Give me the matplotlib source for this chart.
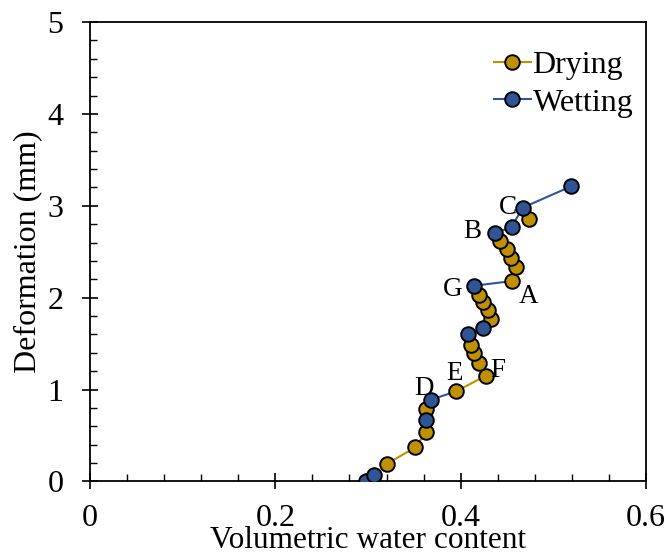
import numpy as np
import matplotlib
matplotlib.use("Agg")
import matplotlib.pyplot as plt
from matplotlib.ticker import MultipleLocator

plt.rcParams['font.family'] = ['Liberation Serif', 'DejaVu Serif']

nan = np.nan

# drying stages, separated by nan so each stage is its own line piece
dry_x = [0.320, 0.351, 0.363, nan,
         0.363, nan,
         0.395, 0.427, 0.420, 0.414, 0.411, nan,
         0.433, 0.429, 0.424, 0.420, nan,
         0.455, 0.460, 0.454, 0.450, 0.442, nan,
         0.474]
dry_y = [0.19, 0.37, 0.54, nan,
         0.79, nan,
         0.98, 1.15, 1.29, 1.40, 1.49, nan,
         1.77, 1.87, 1.95, 2.03, nan,
         2.18, 2.33, 2.43, 2.53, 2.62, nan,
         2.86]

# wetting stages; some end on the first point of the next drying stage
wet_x = [0.298, 0.306, nan,
         0.363, nan,
         0.368, 0.395, nan,
         0.408, 0.424, nan,
         0.414, 0.455, nan,
         0.437, 0.455, 0.467, 0.519]
wet_y = [0.00, 0.07, nan,
         0.67, nan,
         0.89, 0.98, nan,
         1.60, 1.67, nan,
         2.13, 2.18, nan,
         2.70, 2.77, 2.98, 3.21]

# point labels
lab_text = ['A', 'B', 'C', 'D', 'E', 'F', 'G']
lab_x = [0.455, 0.437, 0.467, 0.368, 0.395, 0.427, 0.414]
lab_y = [2.18, 2.70, 2.98, 0.89, 0.98, 1.15, 2.13]
lab_off = [(12, -11), (-16, 1.5), (-11, 0), (-5, 8), (-1, 13), (9, 4), (-15, -3)]

gold = '#BF9000'
blue = '#2F5597'
mk = dict(ms=10.5, mec='black', mew=1.4)

fig = plt.figure(figsize=(6.67, 5.57), dpi=100)
ax = fig.add_axes([0.1349, 0.1356, 0.9685 - 0.1349, 0.9605 - 0.1356])

ax.plot(dry_x, dry_y, color=gold, lw=1.5, zorder=2)
ax.plot(wet_x, wet_y, color=blue, lw=1.5, zorder=2)

dry_pts = set(zip(dry_x, dry_y))
wet_marks = [i for i, p in enumerate(zip(wet_x, wet_y))
             if not np.isnan(p[0]) and p not in dry_pts]

ax.plot(dry_x, dry_y, 'o', ls='none', mfc=gold, zorder=3, **mk)
ax.plot(wet_x, wet_y, 'o', ls='none', mfc=blue, markevery=wet_marks, zorder=4, **mk)

# legend entries
h_dry, = ax.plot([], [], '-o', color=gold, lw=1.5, mfc=gold, **mk)
h_wet, = ax.plot([], [], '-o', color=blue, lw=1.5, mfc=blue, **mk)
ax.legend([h_dry, h_wet], ['Drying', 'Wetting'], loc='upper right', frameon=False,
          fontsize=23, handlelength=1.15, handletextpad=0.05, labelspacing=0.25,
          borderaxespad=0.0, bbox_to_anchor=(1.0, 0.965))

for t, x, y, off in zip(lab_text, lab_x, lab_y, lab_off):
    ax.annotate(t, (x, y), xytext=off, textcoords='offset points',
                ha='center', va='center', fontsize=19.5)

ax.set_xlim(0, 0.6)
ax.set_ylim(0, 5)
ax.set_xticks([0, 0.2, 0.4, 0.6])
ax.set_xticklabels(['0', '0.2', '0.4', '0.6'])
ax.xaxis.set_minor_locator(MultipleLocator(0.04))
ax.yaxis.set_major_locator(MultipleLocator(1))
ax.yaxis.set_minor_locator(MultipleLocator(0.2))

ax.tick_params(which='major', direction='inout', length=12, width=1.2, labelsize=23)
ax.tick_params(axis='x', which='major', pad=10)
ax.tick_params(axis='y', which='major', pad=13)
ax.tick_params(which='minor', direction='in', length=5, width=1.0)
for s in ax.spines.values():
    s.set_linewidth(1.3)

ax.set_xlabel('Volumetric water content', fontsize=22.5, labelpad=-5)
ax.set_ylabel('Deformation (mm)', fontsize=23, labelpad=4)

fig.savefig('out.png', dpi=100)
